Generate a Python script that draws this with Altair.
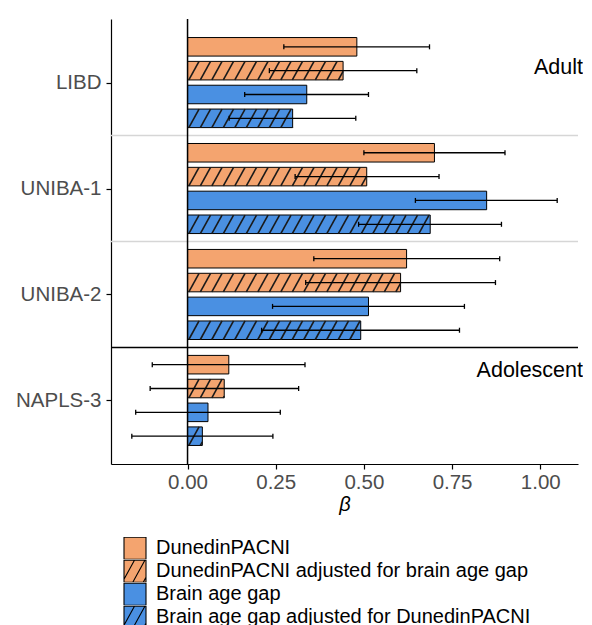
import json
import altair as alt
import pandas as pd

# ---------------- data ----------------
groups = ["LIBD", "UNIBA-1", "UNIBA-2", "NAPLS-3"]
group_cohort = ["Adult", "Adult", "Adult", "Adolescent"]

series = [
    "DunedinPACNI",
    "DunedinPACNI adjusted for brain age gap",
    "Brain age gap",
    "Brain age gap adjusted for DunedinPACNI",
]
series_colors = ["#F4A46F", "#F4A46F", "#4A90E2", "#4A90E2"]
series_hatched = [False, True, False, True]

beta_dunedin = [0.480, 0.700, 0.621, 0.117]
lo_dunedin = [0.273, 0.500, 0.358, -0.100]
hi_dunedin = [0.686, 0.900, 0.885, 0.333]

beta_dunedin_adj = [0.441, 0.508, 0.604, 0.104]
lo_dunedin_adj = [0.232, 0.305, 0.335, -0.106]
hi_dunedin_adj = [0.650, 0.713, 0.873, 0.315]

beta_bag = [0.338, 0.848, 0.513, 0.058]
lo_bag = [0.162, 0.646, 0.241, -0.147]
hi_bag = [0.513, 1.048, 0.785, 0.263]

beta_bag_adj = [0.298, 0.688, 0.491, 0.042]
lo_bag_adj = [0.118, 0.485, 0.210, -0.158]
hi_bag_adj = [0.477, 0.890, 0.771, 0.242]

x_ticks = [0.0, 0.25, 0.5, 0.75, 1.0]

cohort_labels = ["Adult", "Adolescent"]
cohort_label_y = [-0.14, 2.72]

# ---------------- layout ----------------
FONT = "Liberation Sans"
W, H = 467, 445
XDOM = [-0.217, 1.107]
YDOM = [-0.6, 3.6]
SLOT = 0.225
HALF = 0.0875
PX_X = W / (XDOM[1] - XDOM[0])
PX_Y = H / (YDOM[1] - YDOM[0])

betas = [beta_dunedin, beta_dunedin_adj, beta_bag, beta_bag_adj]
los = [lo_dunedin, lo_dunedin_adj, lo_bag, lo_bag_adj]
his = [hi_dunedin, hi_dunedin_adj, hi_bag, hi_bag_adj]

rows = []
for gi, g in enumerate(groups):
    for si, s in enumerate(series):
        c = gi + (si - 1.5) * SLOT
        rows.append(dict(group=g, series=s, color=series_colors[si],
                         hatched=series_hatched[si],
                         beta=betas[si][gi], lo=los[si][gi], hi=his[si][gi],
                         yc=c, y0=c - HALF, y1=c + HALF, x0=0.0,
                         xm=betas[si][gi] / 2))
bars = pd.DataFrame(rows)

# hatch segments computed from each hatched bar through the scale factors
h_px = 2 * HALF * PX_Y
shift = 0.55 * h_px
spacing = 11.5
hatch_rows = []
for r in rows:
    if not r["hatched"]:
        continue
    wb = r["beta"] * PX_X
    k = 0
    while True:
        s0 = -shift + k * spacing
        if s0 > wb:
            break
        t0 = max(0.0, (0 - s0) / shift)
        t1 = min(1.0, (wb - s0) / shift)
        if t1 > t0:
            hatch_rows.append(dict(
                xa=(s0 + t0 * shift) / PX_X,
                xb=(s0 + t1 * shift) / PX_X,
                ya=r["y1"] - t0 * h_px / PX_Y,
                yb=r["y1"] - t1 * h_px / PX_Y))
        k += 1
hatch = pd.DataFrame(hatch_rows)

CAP = 2.5 / PX_Y
bars["cy0"] = bars["yc"] - CAP
bars["cy1"] = bars["yc"] + CAP

seps = pd.DataFrame([
    dict(y=i + 0.5,
         color="black" if group_cohort[i] != group_cohort[i + 1] else "#d6d6d6")
    for i in range(len(groups) - 1)
])

ann = pd.DataFrame(dict(label=cohort_labels, y=cohort_label_y,
                        x=[XDOM[1]] * len(cohort_labels)))


# legend key shapes (unit square, optionally with stripes)
def key_path(hatched):
    p = "M-1,-1H1V1H-1Z"
    if hatched:
        sh = 1.1
        for k in range(6):
            a = -1 - sh + k * 0.95
            t0 = max(0.0, (-1 - a) / sh)
            t1 = min(1.0, (1 - a) / sh)
            if t1 > t0:
                p += " M{:.3f},{:.3f}L{:.3f},{:.3f}".format(
                    a + t0 * sh, 1 - 2 * t0, a + t1 * sh, 1 - 2 * t1)
    return p


key_shapes = [key_path(h) for h in series_hatched]

xscale = alt.Scale(domain=XDOM, nice=False, zero=False)
yscale = alt.Scale(domain=YDOM, nice=False, zero=False, reverse=True)

label_expr = json.dumps(groups) + "[datum.value]"

x_axis = alt.Axis(values=x_ticks, format=".2f", grid=False, tickSize=5,
                  labelPadding=3, labelFontSize=20.5, labelColor="#4d4d4d",
                  labelFont=FONT, domainColor="black", tickColor="black",
                  domainWidth=1.2, tickWidth=1.2,
                  title="β", titleFontStyle="italic", titleFontSize=20,
                  titleFontWeight="normal", titleColor="black", titleFont=FONT,
                  titlePadding=2)
y_axis = alt.Axis(values=list(range(len(groups))), labelExpr=label_expr,
                  grid=False, tickSize=5, labelPadding=5, labelFontSize=20.5,
                  labelColor="#4d4d4d", labelFont=FONT, domainColor="black",
                  tickColor="black", domainWidth=1.2, tickWidth=1.2,
                  title=None, minExtent=103, maxExtent=103)

base = alt.Chart(bars)

legend_pts = base.mark_point(filled=True, size=60, stroke="black",
                             strokeWidth=1, opacity=1).encode(
    x=alt.X("xm:Q", scale=xscale, axis=x_axis),
    y=alt.Y("yc:Q", scale=yscale, axis=y_axis),
    fill=alt.Fill("series:N",
                  scale=alt.Scale(domain=series, range=series_colors),
                  legend=alt.Legend(orient="none", legendX=12, legendY=518,
                                    title=None, symbolSize=484,
                                    labelFontSize=20, labelFont=FONT,
                                    labelColor="black",
                                    symbolStrokeColor="black",
                                    symbolStrokeWidth=1.1, rowPadding=0,
                                    clipHeight=22.5,
                                    labelOffset=9, labelLimit=600)),
    shape=alt.Shape("series:N",
                    scale=alt.Scale(domain=series, range=key_shapes)),
)

sep_layer = alt.Chart(seps).mark_rule(strokeWidth=1.6).encode(
    y=alt.Y("y:Q", scale=yscale),
    color=alt.Color("color:N", scale=None),
)

rects = base.mark_rect(stroke="black", strokeWidth=1).encode(
    x=alt.X("x0:Q", scale=xscale),
    x2="beta:Q",
    y=alt.Y("y0:Q", scale=yscale),
    y2="y1:Q",
    fill=alt.Fill("color:N", scale=None),
)

hatch_layer = alt.Chart(hatch).mark_rule(color="#1a1a1a", strokeWidth=1.6).encode(
    x=alt.X("xa:Q", scale=xscale),
    x2="xb:Q",
    y=alt.Y("ya:Q", scale=yscale),
    y2="yb:Q",
)

err = base.mark_rule(color="black", strokeWidth=1.3).encode(
    x=alt.X("lo:Q", scale=xscale), x2="hi:Q",
    y=alt.Y("yc:Q", scale=yscale),
)
cap_lo = base.mark_rule(color="black", strokeWidth=1.3).encode(
    x=alt.X("lo:Q", scale=xscale),
    y=alt.Y("cy0:Q", scale=yscale), y2="cy1:Q",
)
cap_hi = base.mark_rule(color="black", strokeWidth=1.3).encode(
    x=alt.X("hi:Q", scale=xscale),
    y=alt.Y("cy0:Q", scale=yscale), y2="cy1:Q",
)

zero = alt.Chart(pd.DataFrame({"x": [0.0]})).mark_rule(
    color="black", strokeWidth=1.5).encode(x=alt.X("x:Q", scale=xscale))

texts = alt.Chart(ann).mark_text(align="right", baseline="middle", dx=5,
                                 fontSize=21.5, font=FONT, color="black").encode(
    x=alt.X("x:Q", scale=xscale),
    y=alt.Y("y:Q", scale=yscale),
    text="label:N",
)

chart = alt.layer(
    legend_pts, sep_layer, rects, hatch_layer, err, cap_lo, cap_hi, zero, texts
).properties(
    width=W, height=H,
    padding={"left": 0, "top": 10, "right": 0, "bottom": 0},
).configure(font=FONT).configure_view(stroke=None)

chart.save("out.html", embed_options={"renderer": "svg", "actions": False})
